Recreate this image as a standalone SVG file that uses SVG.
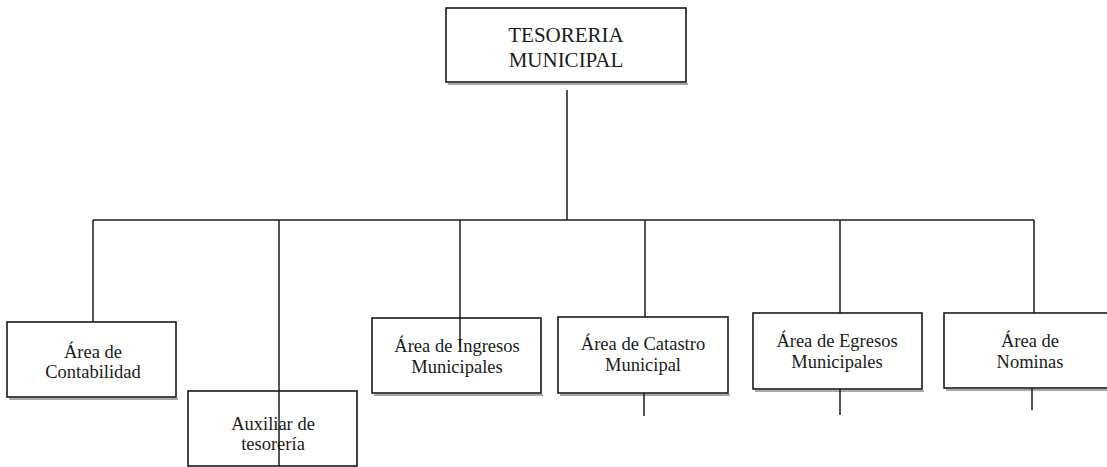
<svg xmlns="http://www.w3.org/2000/svg" width="1107" height="467" viewBox="0 0 1107 467">
<style>
.box{fill:#fff;stroke:#1a1a1a;stroke-width:1.6}
.sh{fill:none;stroke:#a8a8a8;stroke-width:2}
.ln{stroke:#1a1a1a;stroke-width:1.5;fill:none}
text{font-family:"Liberation Serif","Times New Roman",serif;fill:#1a1a1a;text-anchor:middle}
.t1{font-size:21px}
.t2{font-size:18.5px}
</style>
<rect width="1107" height="467" fill="#fff"/>
<g id="node-tesoreria">
<line class="sh" x1="448" y1="84" x2="688" y2="84"/>
<rect class="box" x="446" y="8" width="240" height="74"/>
<text class="t1" x="566" y="42">TESORERIA</text>
<text class="t1" x="566" y="67">MUNICIPAL</text>
</g>
<g id="node-contabilidad">
<line class="sh" x1="9" y1="399" x2="178" y2="399"/>
<rect class="box" x="7" y="322" width="169" height="75"/>
<text class="t2" x="93" y="358">Área de</text>
<text class="t2" x="93" y="378">Contabilidad</text>
</g>
<g id="node-auxiliar">
<rect class="box" x="188" y="391" width="169" height="75"/>
<text class="t2" x="273" y="430">Auxiliar de</text>
<text class="t2" x="273" y="450">tesorería</text>
</g>
<g id="node-ingresos">
<line class="sh" x1="374" y1="395" x2="543" y2="395"/>
<rect class="box" x="372" y="318" width="169" height="75"/>
<text class="t2" x="457" y="352">Área de Ingresos</text>
<text class="t2" x="457" y="373">Municipales</text>
</g>
<g id="node-catastro">
<line class="sh" x1="560" y1="395" x2="730" y2="395"/>
<rect class="box" x="558" y="317" width="170" height="76"/>
<text class="t2" x="643" y="350">Área de Catastro</text>
<text class="t2" x="643" y="371">Municipal</text>
</g>
<g id="node-egresos">
<line class="sh" x1="755" y1="391" x2="924" y2="391"/>
<rect class="box" x="753" y="313" width="169" height="76"/>
<text class="t2" x="837" y="347">Área de Egresos</text>
<text class="t2" x="837" y="368">Municipales</text>
</g>
<g id="node-nominas">
<line class="sh" x1="946" y1="390" x2="1107" y2="390"/>
<rect class="box" x="944" y="313" width="170" height="75"/>
<text class="t2" x="1030" y="347">Área de</text>
<text class="t2" x="1030" y="368">Nominas</text>
</g>
<g id="connectors">
<line class="ln" x1="567" y1="90" x2="567" y2="220"/>
<line class="ln" x1="93" y1="220" x2="1034" y2="220"/>
<line class="ln" x1="93" y1="220" x2="93" y2="322"/>
<line class="ln" x1="279" y1="220" x2="279" y2="466"/>
<line class="ln" x1="460" y1="220" x2="460" y2="346"/>
<line class="ln" x1="645" y1="220" x2="645" y2="317"/>
<line class="ln" x1="840" y1="220" x2="840" y2="313"/>
<line class="ln" x1="1034" y1="220" x2="1034" y2="313"/>
<line class="ln" x1="644" y1="393" x2="644" y2="416"/>
<line class="ln" x1="840" y1="389" x2="840" y2="415"/>
<line class="ln" x1="1032" y1="388" x2="1032" y2="410"/>
</g>
</svg>
